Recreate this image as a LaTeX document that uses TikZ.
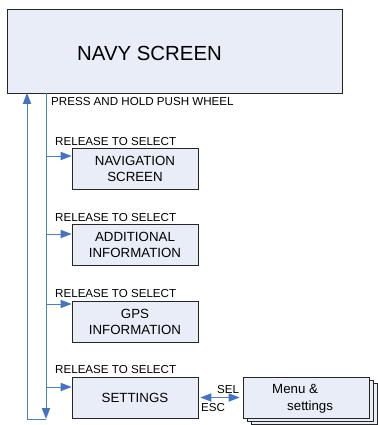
\documentclass[tikz,border=0pt]{standalone}
\usepackage{fontspec}
\setmainfont{Liberation Sans}
\usetikzlibrary{arrows.meta}
\definecolor{boxfill}{HTML}{E8EDF7}
\definecolor{flow}{HTML}{4F81BD}
\definecolor{flowhead}{HTML}{4472C4}
\tikzset{
  x=1pt, y=-1pt,
  screenbox/.style={draw=black!85, line width=0.8pt, fill=boxfill, minimum width=126pt, minimum height=41pt, inner sep=0pt, align=center, font=\fontsize{13.3}{16}\selectfont},
  flowline/.style={draw=flow, line width=1pt},
  headtip/.tip={Triangle[length=11pt,width=8.5pt,color=flowhead,line width=0pt]},
  flowarr/.style={flowline, -headtip},
  twoarr/.style={flowline, headtip-headtip},
  smalltext/.style={font=\fontsize{11.6}{13}\selectfont, inner sep=0pt, anchor=base west},
}
\begin{document}
\begin{tikzpicture}
\useasboundingbox (0,0) rectangle (377,425);
% main screen
\node[draw=black!85, line width=0.8pt, fill=boxfill, minimum width=335pt, minimum height=84pt, inner sep=0pt, anchor=north west] (navy) at (7,9) {};
\node[font=\fontsize{20.4}{24}\selectfont, inner sep=0pt, anchor=base west] (navytxt) at (77,61) {NAVY SCREEN};
% sub screens
\node[screenbox] (nav) at (135,168.5) {NAVIGATION\\SCREEN};
\node[screenbox] (add) at (135,245) {ADDITIONAL\\INFORMATION};
\node[screenbox] (gps) at (135,322) {GPS\\INFORMATION};
\node[screenbox] (set) at (135,397.5) {SETTINGS};
% menu stack
\node[screenbox] (menu3) at (314,403.5) {};
\node[screenbox] (menu2) at (310,400.5) {};
\node[screenbox] (menu) at (306,397.5) {};
\node[font=\fontsize{13.3}{16}\selectfont, inner sep=0pt, anchor=base west] (menut1) at (272,393) {Menu \&};
\node[font=\fontsize{13.3}{16}\selectfont, inner sep=0pt, anchor=base west] (menut2) at (287,410) {settings};
% labels
\node[smalltext] (press) at (51,106) {PRESS AND HOLD PUSH WHEEL};
\node[smalltext] (rel1) at (55,145.5) {RELEASE TO SELECT};
\node[smalltext] (rel2) at (55,221.5) {RELEASE TO SELECT};
\node[smalltext] (rel3) at (55,297.5) {RELEASE TO SELECT};
\node[smalltext] (rel4) at (55,373.5) {RELEASE TO SELECT};
\node[smalltext] (sel) at (217,393) {SEL};
\node[smalltext] (esc) at (201,411) {ESC};
% bus coordinates
\coordinate (busTop) at (46,93);
\coordinate (busBot) at (46,419);
\coordinate (retBot) at (27,419);
\coordinate (retTop) at (27,93);
\coordinate (b1) at (46,156);
\coordinate (b2) at (46,234);
\coordinate (b3) at (46,304);
\coordinate (b4) at (46,387);
% connectors
\draw[flowarr] (busTop) -- (busBot);
\draw[flowarr] (busBot) -- (retBot) -- (retTop);
\draw[flowarr] (b1) -- (b1 -| nav.west);
\draw[flowarr] (b2) -- (b2 -| add.west);
\draw[flowarr] (b3) -- (b3 -| gps.west);
\draw[flowarr] (b4) -- (b4 -| set.west);
\draw[twoarr, shorten <=2pt, shorten >=3pt] (set.east) -- (menu.west);
\end{tikzpicture}
\end{document}
